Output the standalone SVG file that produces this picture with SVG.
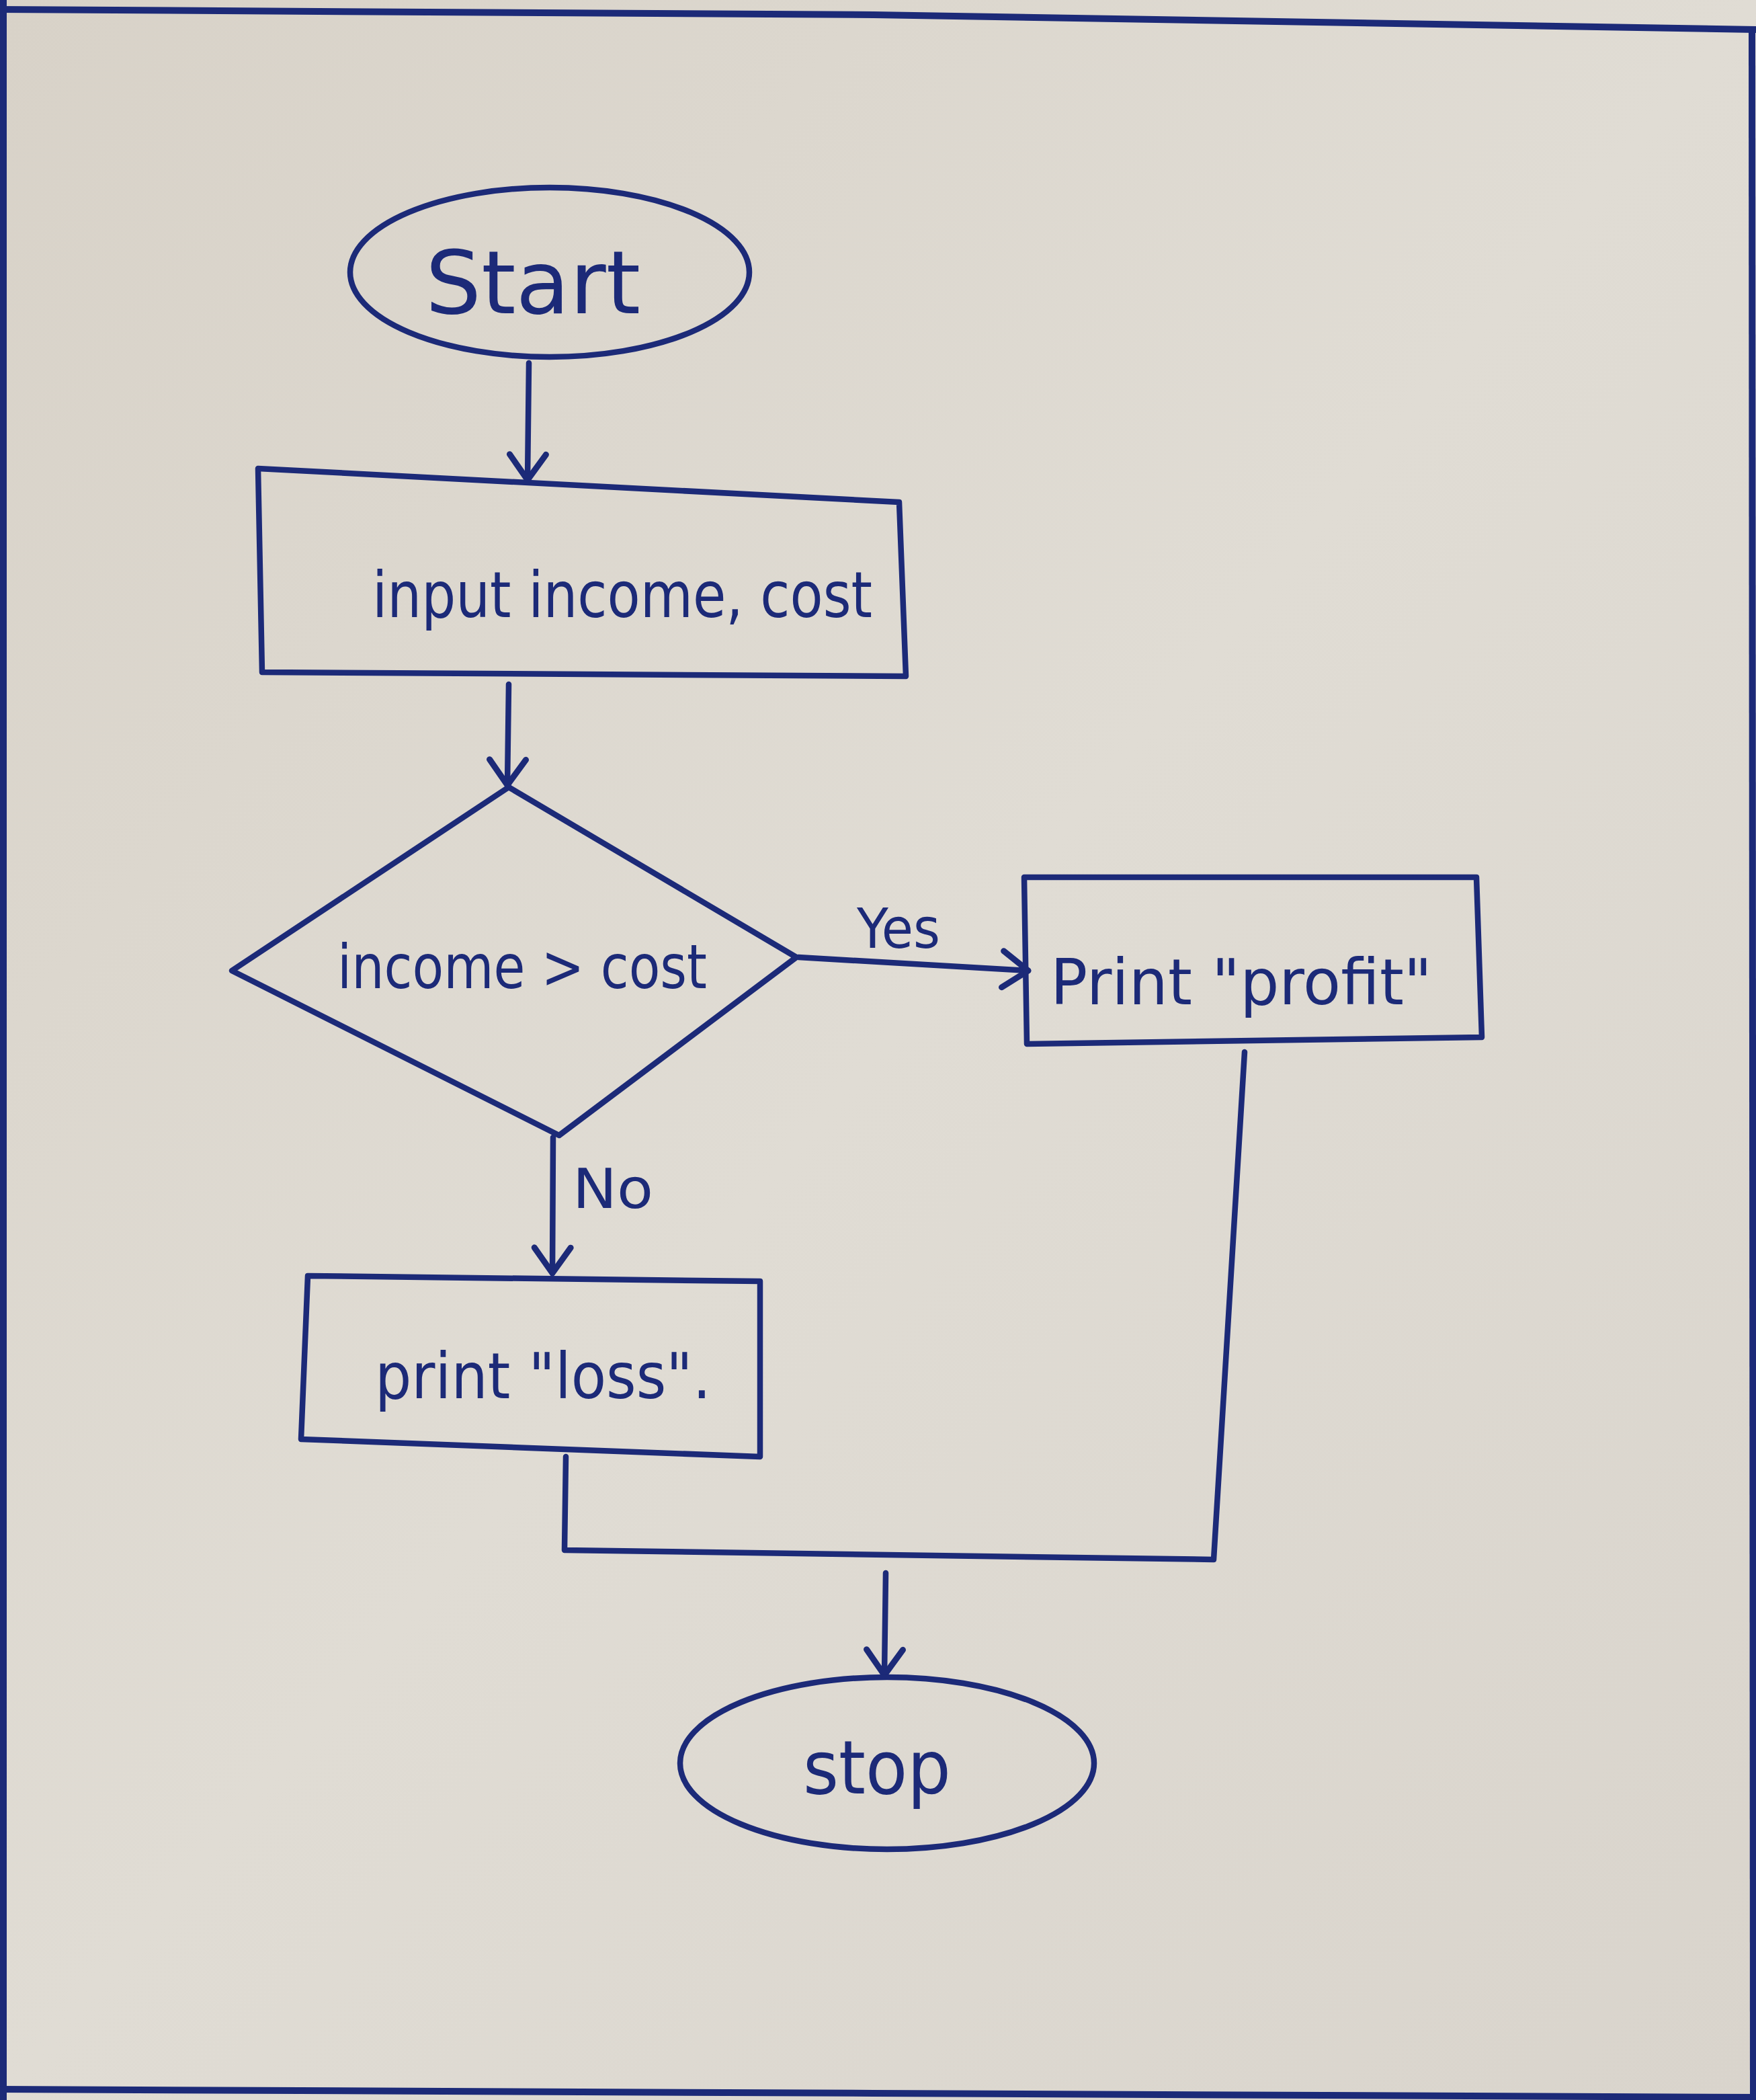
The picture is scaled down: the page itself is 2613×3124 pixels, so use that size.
<svg xmlns="http://www.w3.org/2000/svg" width="2613" height="3124" viewBox="0 0 2613 3124">
<defs>
<marker id="arr" markerUnits="userSpaceOnUse" markerWidth="70" markerHeight="70" refX="50" refY="35" orient="auto">
<path d="M12,8 L50,35 L12,62" fill="none" stroke="#1c2a78" stroke-width="9" stroke-linecap="round" stroke-linejoin="round"/>
</marker>
<linearGradient id="paper" x1="0" y1="0" x2="1" y2="1">
<stop offset="0" stop-color="#d8d2c8"/>
<stop offset="0.5" stop-color="#e0dcd4"/>
<stop offset="1" stop-color="#d9d4cc"/>
</linearGradient>
</defs>
<style>
.ink{fill:none;stroke:#1c2a78;stroke-width:8.5;stroke-linecap:round;stroke-linejoin:round}
.lbl{fill:#1c2a78;font-family:"DejaVu Sans","Liberation Sans",sans-serif}
.border{fill:none;stroke:#1c2a78;stroke-width:10}
</style>
<rect x="0" y="0" width="2613" height="3124" fill="url(#paper)"/>
<g id="page-border">
<path class="border" d="M0,14 L1300,22 L2613,44"/>
<path class="border" d="M5,0 L5,3124"/>
<path class="border" d="M2607,44 L2609,3124"/>
<path class="border" d="M0,3108 L1300,3114 L2613,3120"/>
</g>
<g id="connectors">
<path class="ink" d="M787,540 L785,714" marker-end="url(#arr)"/>
<path class="ink" d="M757,1018 L755,1168" marker-end="url(#arr)"/>
<path class="ink" d="M1188,1424 L1530,1444" marker-end="url(#arr)"/>
<path class="ink" d="M823,1692 L822,1894" marker-end="url(#arr)"/>
<path class="ink" d="M842,2167 L840,2306 L1806,2320 L1852,1565"/>
<path class="ink" d="M1318,2340 L1316,2492" marker-end="url(#arr)"/>
<text class="lbl" x="1275" y="1410" font-size="82" textLength="124" lengthAdjust="spacingAndGlyphs">Yes</text>
<text class="lbl" x="852" y="1797" font-size="82" textLength="120" lengthAdjust="spacingAndGlyphs">No</text>
</g>
<g id="start">
<ellipse class="ink" cx="818" cy="405" rx="297" ry="126"/>
<text class="lbl" x="633" y="466" font-size="130" textLength="320" lengthAdjust="spacingAndGlyphs">Start</text>
</g>
<g id="input">
<polygon class="ink" points="384,697 1338,747 1348,1006 390,1000"/>
<text class="lbl" x="554" y="918" font-size="95" textLength="744" lengthAdjust="spacingAndGlyphs">input income, cost</text>
</g>
<g id="decision">
<polygon class="ink" points="757,1171 1185,1424 832,1689 345,1444"/>
<text class="lbl" x="502" y="1470" font-size="90" textLength="550" lengthAdjust="spacingAndGlyphs">income &gt; cost</text>
</g>
<g id="profit">
<polygon class="ink" points="1524,1305 2197,1305 2205,1543 1528,1553"/>
<text class="lbl" x="1563" y="1494" font-size="95" textLength="568" lengthAdjust="spacingAndGlyphs">Print "profit"</text>
</g>
<g id="loss">
<polygon class="ink" points="458,1898 1131,1906 1131,2167 448,2141"/>
<text class="lbl" x="558" y="2080" font-size="95" textLength="500" lengthAdjust="spacingAndGlyphs">print "loss".</text>
</g>
<g id="stop">
<ellipse class="ink" cx="1320" cy="2623" rx="308" ry="128"/>
<text class="lbl" x="1195" y="2668" font-size="110" textLength="220" lengthAdjust="spacingAndGlyphs">stop</text>
</g>
</svg>
